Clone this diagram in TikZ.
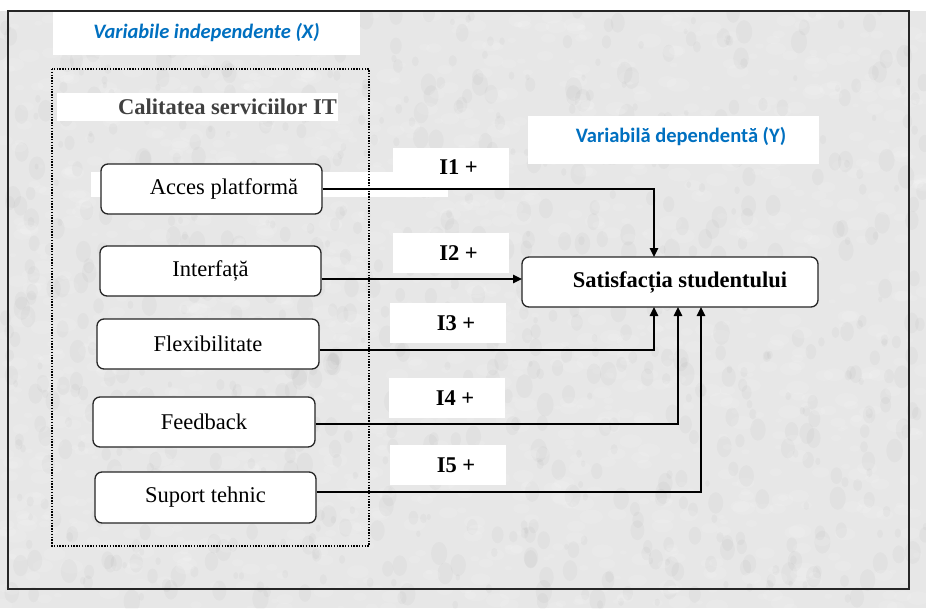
\documentclass[tikz,border=0pt]{standalone}
\usepackage{fontspec}
\setmainfont{Liberation Serif}
\newfontfamily\calibri{Carlito}
\usetikzlibrary{arrows.meta}
\definecolor{granite}{RGB}{231,231,231}
\definecolor{labelblue}{RGB}{0,112,192}
\definecolor{titlegray}{RGB}{64,64,64}
\begin{document}
\begin{tikzpicture}[x=1pt,y=-1pt,
  pbox/.style={draw=black!85, line width=1.3pt, fill=white, rounded corners=7pt,
    inner sep=0pt, font=\fontsize{22.5}{26}\selectfont},
  whitepatch/.style={fill=white, draw=none, inner sep=0pt},
  hyplabel/.style={whitepatch, minimum width=116pt, minimum height=40pt,
    font=\fontsize{22.5}{26}\selectfont\bfseries},
  conn/.style={line width=1.6pt, black, -{Triangle[length=9pt,width=8.5pt]}},
  bluetext/.style={text=labelblue, inner sep=0pt, font=\calibri\fontsize{20.5}{24}\selectfont\bfseries}
]
\useasboundingbox (0,0) rectangle (926,608);

% granite-like background
\fill[granite] (0,0) rectangle (926,608);
\fill[white] (0,0) rectangle (926,11);
\pgfmathsetseed{11}
\begin{scope}
  \clip (0,11) rectangle (926,608);
  \foreach \i in {1,...,2200}{
    \pgfmathsetmacro\px{rnd*926}
    \pgfmathsetmacro\py{11+rnd*597}
    \pgfmathsetmacro\rr{3+rnd*9}
    \pgfmathsetmacro\ss{rnd}
    \ifdim\ss pt<0.6pt
      \fill[white,opacity=0.12] (\px,\py) ellipse[x radius=\rr pt, y radius=0.6*\rr pt];
    \else
      \fill[black,opacity=0.025] (\px,\py) ellipse[x radius=0.7*\rr pt, y radius=\rr pt];
    \fi
  }
\end{scope}

% outer frame
\draw[line width=1.3pt, black!85] (8,11) rectangle (909,589);

% heading patches
\node[whitepatch, minimum width=307pt, minimum height=43pt] (hx) at (206.5,33.5) {};
\node[bluetext, font=\calibri\fontsize{20.5}{24}\selectfont\bfseries\itshape] (hxt) at (206.5,33) {Variabile independente (X)};
\node[whitepatch, minimum width=291pt, minimum height=48pt] (hy) at (673.5,140) {};
\node[bluetext] (hyt) at (681,137) {Variabilă dependentă (Y)};

% white strip behind the first factor
\fill[white] (91,172) rectangle (448,197);

% group of independent variables
\draw[line width=1.5pt, dash pattern=on 1.4pt off 1.4pt] (52,69) rectangle (369,546);
\node[whitepatch, minimum width=281pt, minimum height=28pt] (calbg) at (197.5,107) {};
\node[anchor=east, inner sep=0pt, text=titlegray, font=\fontsize{22.5}{26}\selectfont\bfseries] (cal) at (337,107) {Calitatea serviciilor IT};

% hypothesis labels
\node[hyplabel] (l1) at (450.5,167.5) {\hspace*{16pt}I1 +};
\node[hyplabel] (l2) at (450.5,253) {\hspace*{16pt}I2 +};
\node[hyplabel] (l3) at (448,323) {\hspace*{16pt}I3 +};
\node[hyplabel] (l4) at (447,398) {\hspace*{16pt}I4 +};
\node[hyplabel] (l5) at (448,465) {\hspace*{16pt}I5 +};

% factor boxes
\node[pbox, minimum width=221pt, minimum height=50pt] (acc) at (211.5,189) {\hspace*{25pt}Acces platformă};
\node[pbox, minimum width=221pt, minimum height=50pt] (int) at (210.5,271) {Interfață};
\node[pbox, minimum width=222pt, minimum height=50pt] (flex) at (208,344) {Flexibilitate};
\node[pbox, minimum width=222pt, minimum height=50pt] (feed) at (204,422) {Feedback};
\node[pbox, minimum width=221pt, minimum height=51pt] (sup) at (205.5,497.5) {Suport tehnic};

% dependent variable
\node[pbox, minimum width=296pt, minimum height=50pt, font=\fontsize{22.5}{26}\selectfont\bfseries] (sat) at (670,282) {\hspace*{20pt}Satisfacția studentului};

% arrow targets on the dependent variable
\coordinate (t1) at (654,257);
\coordinate (t2) at (522,279);
\coordinate (t3) at (654,307);
\coordinate (t4) at (678,307);
\coordinate (t5) at (701,307);

% connectors
\draw[conn] (acc.east) -| (t1);
\draw[conn] (int.east |- t2) -- (t2);
\draw[conn] ([yshift=-6pt]flex.east) -| (t3);
\draw[conn] ([yshift=-2pt]feed.east) -| (t4);
\draw[conn] ([yshift=5.5pt]sup.east) -| (t5);
\end{tikzpicture}
\end{document}
